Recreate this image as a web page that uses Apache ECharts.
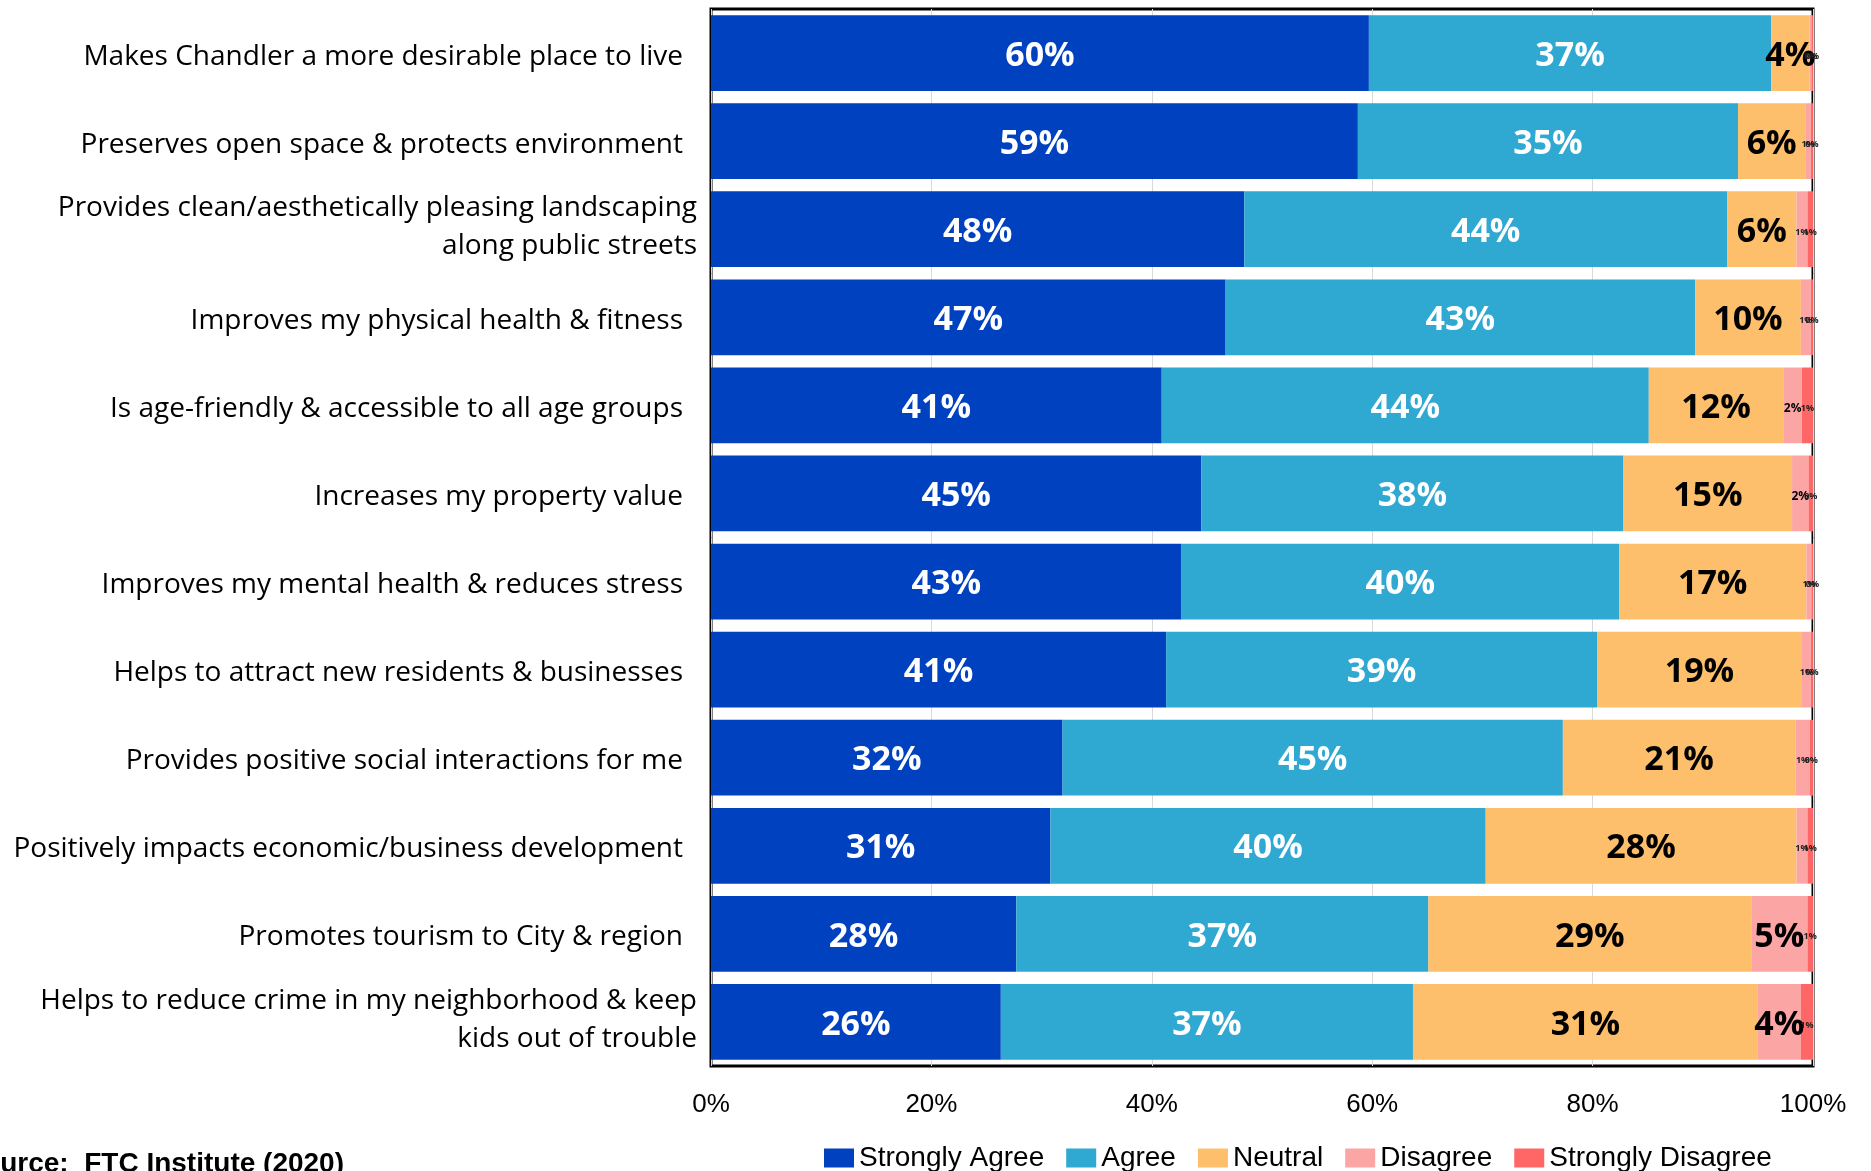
<!DOCTYPE html>
<html><head><meta charset="utf-8">
<script src="https://cdn.jsdelivr.net/npm/echarts@6/dist/echarts.min.js"></script>
<style>html,body{margin:0;padding:0;background:#fff}#c{width:1871px;height:1171px}</style>
</head><body><div id="c"></div>
<script>
const categories = [
  "Makes Chandler a more desirable place to live",
  "Preserves open space & protects environment",
  "Provides clean/aesthetically pleasing landscaping\nalong public streets",
  "Improves my physical health & fitness",
  "Is age-friendly & accessible to all age groups",
  "Increases my property value",
  "Improves my mental health & reduces stress",
  "Helps to attract new residents & businesses",
  "Provides positive social interactions for me",
  "Positively impacts economic/business development",
  "Promotes tourism to City & region",
  "Helps to reduce crime in my neighborhood & keep\nkids out of trouble"
];
const seriesNames = ["Strongly Agree", "Agree", "Neutral", "Disagree", "Strongly Disagree"];
const stronglyAgree    = [59.7, 58.7, 48.4, 46.7, 40.9, 44.5, 42.7, 41.3, 31.9, 30.8, 27.7, 26.3];
const agree            = [36.5, 34.5, 43.8, 42.6, 44.2, 38.3, 39.7, 39.1, 45.4, 39.5, 37.4, 37.4];
const neutral          = [3.5, 6.1, 6.3, 9.6, 12.2, 15.3, 17.0, 18.6, 21.1, 28.2, 29.3, 31.3];
const disagree         = [0.2, 0.5, 1.0, 0.9, 1.7, 1.5, 0.5, 0.8, 1.3, 1.0, 5.1, 3.9];
const stronglyDisagree = [0.1, 0.2, 0.5, 0.2, 1.0, 0.4, 0.1, 0.2, 0.3, 0.5, 0.5, 1.1];
const xTicks = [0, 20, 40, 60, 80, 100];
const colors = ["#0041C0", "#2FA8D2", "#FDBF6B", "#FBA6A5", "#FF6666"];
const values = [stronglyAgree, agree, neutral, disagree, stronglyDisagree];

const chart = echarts.init(document.getElementById('c'));
const labelColors = ['#ffffff', '#ffffff', '#000000', '#000000', '#000000'];
const series = seriesNames.map((name, i) => ({
  name, type: 'bar', stack: 'total',
  data: values[i],
  barCategoryGap: '14%',
  itemStyle: { color: colors[i] },
  label: {
    show: true, position: 'inside', offset: [0, 3],
    formatter: p => {
      const r = Math.round(p.value) + '%';
      return p.value >= 3 ? '{b|' + r + '}' : (p.value >= 1.4 ? '{m|' + r + '}' : '{s|' + r + '}');
    },
    rich: {
      b: { fontSize: 34, fontWeight: 'bold', color: labelColors[i], fontFamily: 'Open Sans' },
      m: { fontSize: 12, fontWeight: 'bold', color: '#000', fontFamily: 'Open Sans' },
      s: { fontSize: 9, fontWeight: 'bold', color: '#222', fontFamily: 'Open Sans' }
    }
  }
}));

chart.setOption({
  animation: false,
  color: colors,
  grid: { left: 711, top: 9, width: 1102, height: 1057, show: true, borderColor: '#000', borderWidth: 3, containLabel: false },
  xAxis: {
    type: 'value', min: 0, max: 100, interval: 20,
    axisLine: { show: false }, axisTick: { show: false },
    splitLine: { show: true, lineStyle: { color: '#D9D9D9', width: 1 } },
    axisLabel: { formatter: v => xTicks.includes(v) ? v + '%' : '', fontSize: 26, color: '#000', margin: 26, fontFamily: 'Liberation Sans Narrow, Liberation Sans, sans-serif' }
  },
  yAxis: {
    type: 'category', data: categories, inverse: true,
    axisLine: { show: false }, axisTick: { show: false },
    axisLabel: {
      margin: 14, align: 'right',
      formatter: v => v.includes('\n') ? v.split('\n').map(s => '{d|' + s + '}').join('\n') : '{n|' + v + '}',
      rich: {
        n: { fontSize: 28, color: '#000', fontFamily: 'Open Sans', lineHeight: 38, padding: [7, 14, 0, 0] },
        d: { fontSize: 28, color: '#000', fontFamily: 'Open Sans', lineHeight: 38, padding: [0, 0, 4, 0] }
      }
    }
  },
  legend: {
    data: seriesNames, left: 819, top: 1139, itemWidth: 30, itemHeight: 19, itemGap: 22,
    icon: 'rect',
    textStyle: { fontSize: 28, color: '#000', fontFamily: 'Liberation Sans Narrow, Liberation Sans, sans-serif' }
  },
  graphic: [{
    type: 'text', right: 1871 - 344, top: 1150,
    style: { text: 'Source:  FTC Institute (2020)', fontSize: 28, fontWeight: 'bold', fill: '#000', fontFamily: 'Liberation Sans Narrow, Liberation Sans, sans-serif' }
  }],
  series
});
</script></body></html>
